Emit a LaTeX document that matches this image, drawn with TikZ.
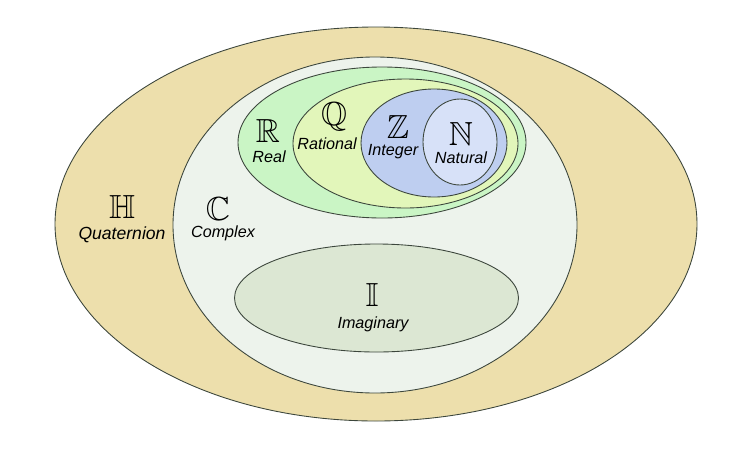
\documentclass[tikz,border=0pt]{standalone}
\usepackage{amssymb}
\usepackage{fontspec}
\setsansfont{Liberation Sans}
\usepackage{tikz}
\usetikzlibrary{positioning}
\usepackage{xcolor}

\definecolor{quatfill}{RGB}{237,223,172}
\definecolor{compfill}{RGB}{237,243,236}
\definecolor{realfill}{RGB}{202,245,197}
\definecolor{ratfill}{RGB}{226,246,186}
\definecolor{intfill}{RGB}{190,206,240}
\definecolor{natfill}{RGB}{215,225,248}
\definecolor{imagfill}{RGB}{220,231,211}
\definecolor{rim}{RGB}{60,70,60}

\tikzset{
  set/.style={draw=rim, line width=0.5pt},
  sym/.style={inner sep=0, font=\fontsize{19}{20}\selectfont},
  lab/.style={inner sep=0, font=\fontsize{9.2}{11}\sffamily\itshape}
}

\begin{document}
\begin{tikzpicture}[x=0.02cm, y=-0.02cm]

  \useasboundingbox (0,0) rectangle (750,450);

  % Quaternion
  \draw[set, fill=quatfill] (376,224) ellipse [x radius=321, y radius=197];
  \node[sym] (H) at (122,207) {$\mathbb{H}$};
  \node[lab, font=\fontsize{10}{12}\sffamily\itshape] (Hlab) at (122,235) {Quaternion};

  % Complex
  \draw[set, fill=compfill] (375,225) ellipse [x radius=202, y radius=168];
  \node[sym] (C) at (218,209) {$\mathbb{C}$};
  \node[lab] (Clab) at (223,233) {Complex};

  % Real
  \draw[set, fill=realfill] (382,142.5) ellipse [x radius=144, y radius=75.5];
  \node[sym] (R) at (268,131) {$\mathbb{R}$};
  \node[lab] (Rlab) at (269,157) {Real};

  % Rational
  \draw[set, fill=ratfill] (405.5,143.5) ellipse [x radius=112.5, y radius=64.5];
  \node[sym] (Q) at (334,117) {$\mathbb{Q}$};
  \node[lab] (Qlab) at (327,144) {Rational};

  % Integer
  \draw[set, fill=intfill] (434,143) ellipse [x radius=73, y radius=54];
  \node[sym] (Z) at (398,127) {$\mathbb{Z}$};
  \node[lab] (Zlab) at (393,152) {Integer};

  % Natural
  \draw[set, fill=natfill] (460,142) ellipse [x radius=37, y radius=43];
  \node[sym] (N) at (461,134) {$\mathbb{N}$};
  \node[lab] (Nlab) at (461,158) {Natural};

  % Imaginary
  \draw[set, fill=imagfill] (376.5,298) ellipse [x radius=142, y radius=54];
  \node[sym] (I) at (372,295) {$\mathbb{I}$};
  \node[lab] (Ilab) at (373,324) {Imaginary};

\end{tikzpicture}
\end{document}
